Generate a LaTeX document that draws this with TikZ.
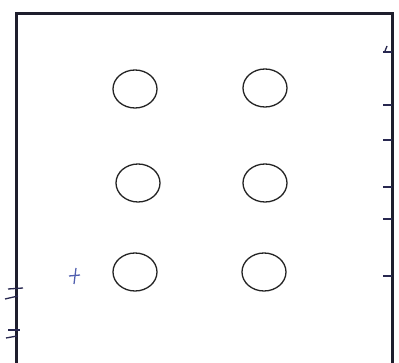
\documentclass[tikz,border=0pt]{standalone}
\usetikzlibrary{shapes.geometric}
\begin{document}
\begin{tikzpicture}[x=1pt,y=-1pt,
  frameline/.style={line width=3pt,draw={rgb,255:red,30;green,30;blue,45}},
  hole/.style={ellipse,draw={rgb,255:red,35;green,35;blue,35},line width=1.3pt,minimum width=44pt,minimum height=38pt,inner sep=0pt},
  ticksign/.style={line width=1.3pt,draw={rgb,255:red,40;green,40;blue,80}},
  bluecross/.style={line width=1.3pt,draw={rgb,255:red,80;green,95;blue,175}}]
\useasboundingbox (0,0) rectangle (399,363);
\fill[white] (0,0) rectangle (399,363);
\draw[frameline] (16,363) -- (16,14) -- (392,14) -- (392,363);
\node[hole] (h11) at (135,89) {};
\node[hole] (h12) at (265,88) {};
\node[hole] (h21) at (138,183) {};
\node[hole] (h22) at (265,183) {};
\node[hole] (h31) at (135,272) {};
\node[hole] (h32) at (264,272) {};
% blue cross
\draw[bluecross] (69,276) -- (80,275);
\draw[bluecross] (76,268) -- (74,284);
% right ticks
\foreach \yy in {52,105,140,187,219,276} \draw[ticksign] (383,\yy) -- (392,\yy);
\draw[ticksign] (387,46) -- (385,51);
% left break marks
\draw[ticksign] (8,289) -- (23,288);
\draw[ticksign] (5,299) -- (18,296);
\draw[ticksign] (8,330) -- (20,330);
\draw[ticksign] (6,338) -- (17,336);
\end{tikzpicture}
\end{document}
